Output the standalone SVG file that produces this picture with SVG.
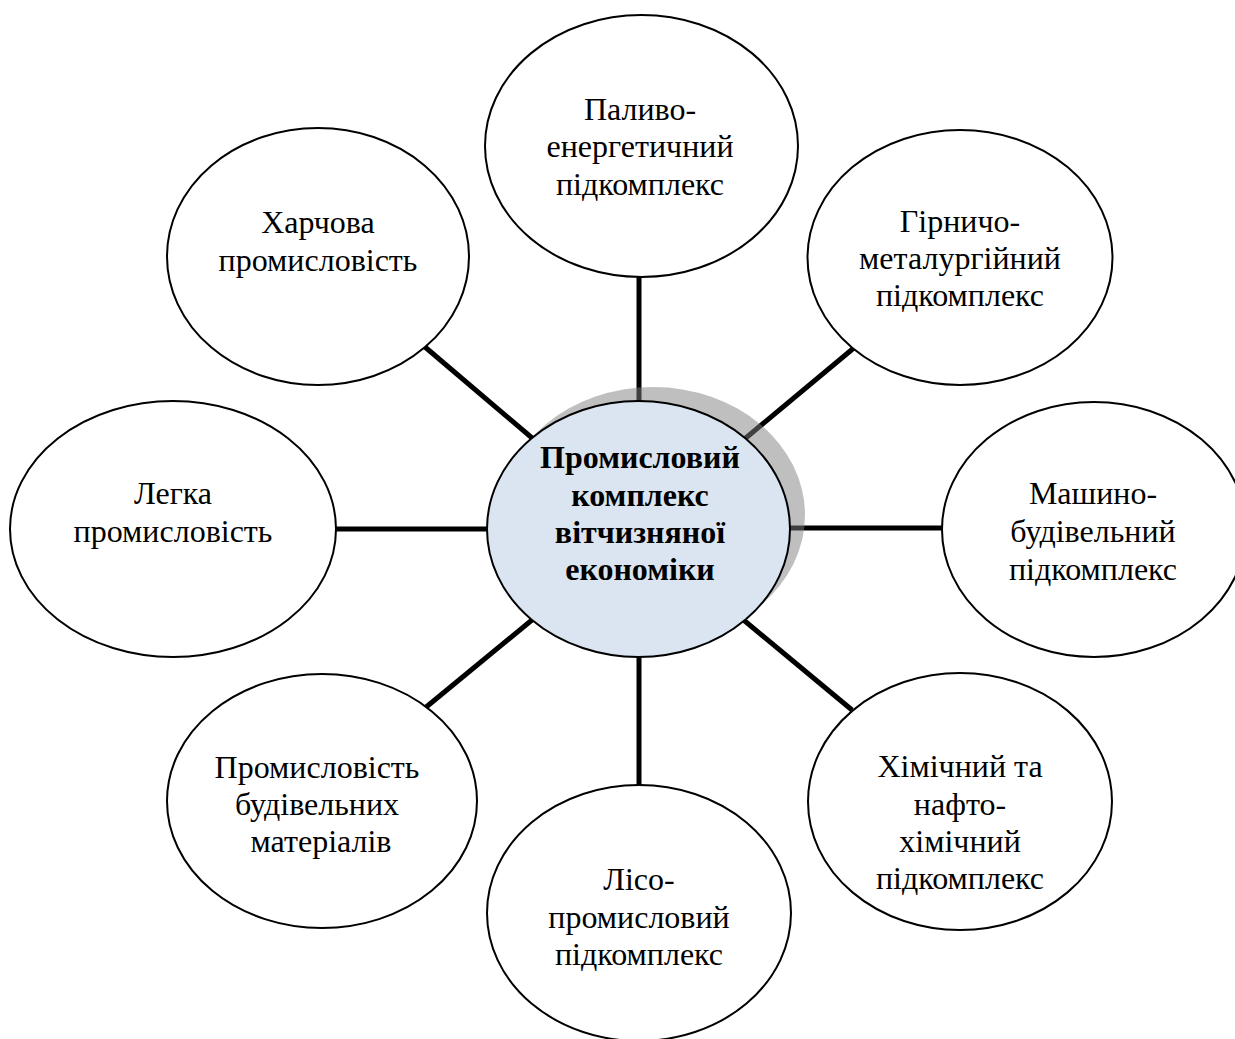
<svg xmlns="http://www.w3.org/2000/svg" width="1235" height="1039" viewBox="0 0 1235 1039">
<style>
.node{fill:#ffffff;stroke:#000000;stroke-width:2}
.hub{fill:#dbe5f1;stroke:#000000;stroke-width:2}
.conn line{stroke:#000000;stroke-width:5}
text{font-family:"Liberation Serif","Times New Roman",serif;font-size:32px;fill:#000000;text-anchor:middle}
.bold{font-weight:bold}
</style>
<rect x="0" y="0" width="1235" height="1039" fill="#ffffff"/>
<g id="connectors" class="conn">
<line x1="639" y1="277" x2="639" y2="410"/>
<line x1="639" y1="650" x2="639" y2="785"/>
<line x1="336" y1="529" x2="495" y2="529"/>
<line x1="782" y1="528" x2="942" y2="528"/>
<line x1="425" y1="347" x2="538" y2="443"/>
<line x1="855" y1="347" x2="741" y2="442"/>
<line x1="425" y1="708" x2="538" y2="615"/>
<line x1="852" y1="710" x2="740" y2="617"/>
</g>
<g id="hub">
<ellipse cx="653" cy="515" rx="152" ry="128" fill="#808080" fill-opacity="0.5"/>
<ellipse class="hub" cx="638.5" cy="529" rx="151.5" ry="128"/>
<text class="bold" x="640" y="468">Промисловий</text>
<text class="bold" x="640" y="506">комплекс</text>
<text class="bold" x="640" y="543">вітчизняної</text>
<text class="bold" x="640" y="580">економіки</text>
</g>
<g id="node-palyvo">
<ellipse class="node" cx="641.5" cy="146" rx="156.5" ry="131"/>
<text x="640" y="120">Паливо-</text>
<text x="640" y="157">енергетичний</text>
<text x="640" y="195">підкомплекс</text>
</g>
<g id="node-hirnycho">
<ellipse class="node" cx="960" cy="257.5" rx="152.5" ry="127.5"/>
<text x="960" y="232">Гірничо-</text>
<text x="960" y="269">металургійний</text>
<text x="960" y="306">підкомплекс</text>
</g>
<g id="node-mashyno">
<ellipse class="node" cx="1094" cy="529.5" rx="152" ry="127.5"/>
<text x="1093" y="504">Машино-</text>
<text x="1093" y="542">будівельний</text>
<text x="1093" y="580">підкомплекс</text>
</g>
<g id="node-khimichnyi">
<ellipse class="node" cx="960" cy="801.5" rx="152" ry="128.5"/>
<text x="960" y="777">Хімічний та</text>
<text x="960" y="815">нафто-</text>
<text x="960" y="852">хімічний</text>
<text x="960" y="889">підкомплекс</text>
</g>
<g id="node-liso">
<ellipse class="node" cx="639" cy="913" rx="152" ry="128"/>
<text x="639" y="890">Лісо-</text>
<text x="639" y="928">промисловий</text>
<text x="639" y="965">підкомплекс</text>
</g>
<g id="node-budivelni">
<ellipse class="node" cx="322" cy="801" rx="155" ry="127"/>
<text x="317" y="778">Промисловість</text>
<text x="317" y="815">будівельних</text>
<text x="321" y="852">матеріалів</text>
</g>
<g id="node-lehka">
<ellipse class="node" cx="173" cy="529" rx="163" ry="128"/>
<text x="173" y="504">Легка</text>
<text x="173" y="542">промисловість</text>
</g>
<g id="node-kharchova">
<ellipse class="node" cx="318" cy="256.5" rx="151" ry="128.5"/>
<text x="318" y="233">Харчова</text>
<text x="318" y="271">промисловість</text>
</g>
</svg>
